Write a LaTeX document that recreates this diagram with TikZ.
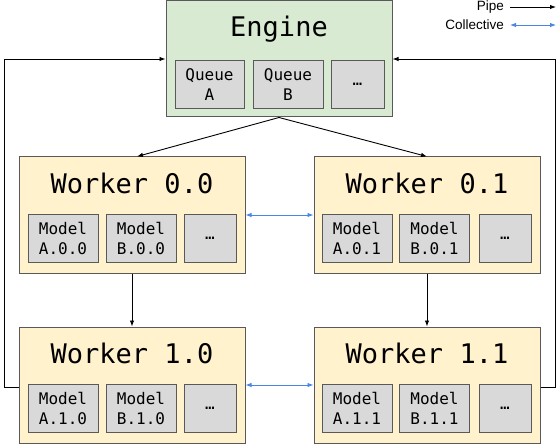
\documentclass[tikz,border=0pt]{standalone}
\usepackage{fontspec}
\setmainfont{Liberation Sans}
\setsansfont{Liberation Sans}
\setmonofont{DejaVu Sans Mono}
\usetikzlibrary{arrows.meta}
\definecolor{enggreen}{HTML}{D9EAD3}
\definecolor{wrkyellow}{HTML}{FFF2CC}
\definecolor{subgray}{HTML}{D9D9D9}
\definecolor{bordergray}{HTML}{595959}
\definecolor{collblue}{HTML}{4A86E8}
\tikzset{
  bigbox/.style={draw=bordergray, line width=1pt, minimum width=226pt, minimum height=116pt, inner sep=0pt},
  enginebox/.style={bigbox, fill=enggreen},
  workerbox/.style={bigbox, fill=wrkyellow},
  subbox/.style={draw=bordergray, line width=1pt, fill=subgray, minimum height=48pt, minimum width=70pt, inner sep=0pt, align=center, font=\ttfamily\fontsize{16}{20}\selectfont},
  dotbox/.style={subbox, minimum width=52pt},
  titletext/.style={font=\ttfamily\fontsize{27}{30}\selectfont, inner sep=0pt},
  pipe/.style={draw=black, line width=0.9pt, -{Latex[length=6pt,width=4.5pt]}},
  coll/.style={draw=collblue, line width=0.9pt, {Latex[length=6pt,width=4.5pt]}-{Latex[length=6pt,width=4.5pt]}},
  legendtext/.style={font=\sffamily\fontsize{13.5}{15}\selectfont, inner sep=0pt, anchor=east}
}
\begin{document}
\begin{tikzpicture}[x=1pt,y=-1pt]
\useasboundingbox (0,0) rectangle (558,444);
% Engine
\node[enginebox] (eng) at (279,59) {};
\node[titletext] (engt) at (279,29) {Engine};
\node[subbox, minimum width=69pt] (qa) at (209.5,84.5) {Queue\\A};
\node[subbox] (qb) at (288,84.5) {Queue\\B};
\node[dotbox, minimum width=53pt] (qd) at (357.5,84.5) {…};
% Worker 0.0
\node[workerbox] (w00) at (132,215) {};
\node[titletext] (w00t) at (132,183) {Worker 0.0};
\node[subbox] (m00a) at (63,238.5) {Model\\A.0.0};
\node[subbox] (m00b) at (141,238.5) {Model\\B.0.0};
\node[dotbox] (m00d) at (210,238.5) {…};
% Worker 0.1
\node[workerbox] (w01) at (427,215) {};
\node[titletext] (w01t) at (427,183) {Worker 0.1};
\node[subbox] (m01a) at (357,238.5) {Model\\A.0.1};
\node[subbox] (m01b) at (434.5,238.5) {Model\\B.0.1};
\node[dotbox] (m01d) at (505,238.5) {…};
% Worker 1.0
\node[workerbox] (w10) at (132,385) {};
\node[titletext] (w10t) at (132,353) {Worker 1.0};
\node[subbox] (m10a) at (63,408) {Model\\A.1.0};
\node[subbox] (m10b) at (141,408) {Model\\B.1.0};
\node[dotbox] (m10d) at (210,408) {…};
% Worker 1.1
\node[workerbox] (w11) at (427,385) {};
\node[titletext] (w11t) at (427,353) {Worker 1.1};
\node[subbox] (m11a) at (357,408) {Model\\A.1.1};
\node[subbox] (m11b) at (434.5,408) {Model\\B.1.1};
\node[dotbox] (m11d) at (505,408) {…};
% Pipes
\draw[pipe] (eng.south) -- ([xshift=5pt]w00.north);
\draw[pipe] (eng.south) -- (w01.north);
\draw[pipe] (w00.south) -- (w10.north);
\draw[pipe] (w01.south) -- (w11.north);
\coordinate (fbl) at (4,0);
\coordinate (fbr) at (555,0);
\draw[pipe] ([yshift=-2pt]w10.west) -- ([yshift=-2pt]w10.west -| fbl) |- (eng.west);
\draw[pipe] ([yshift=-2pt]w11.east) -- ([yshift=-2pt]w11.east -| fbr) |- (eng.east);
% Collectives
\draw[coll] (w00.east) -- (w01.west);
\draw[coll] (w10.east) -- (w11.west);
% Legend
\node[legendtext] (lp) at (504,7) {Pipe};
\node[legendtext] (lc) at (504,25) {Collective};
\coordinate (lp1) at (510,7);
\coordinate (lp2) at (556,7);
\coordinate (lc1) at (510,25);
\coordinate (lc2) at (556,25);
\draw[pipe] (lp1) -- (lp2);
\draw[coll] (lc1) -- (lc2);
\end{tikzpicture}
\end{document}
